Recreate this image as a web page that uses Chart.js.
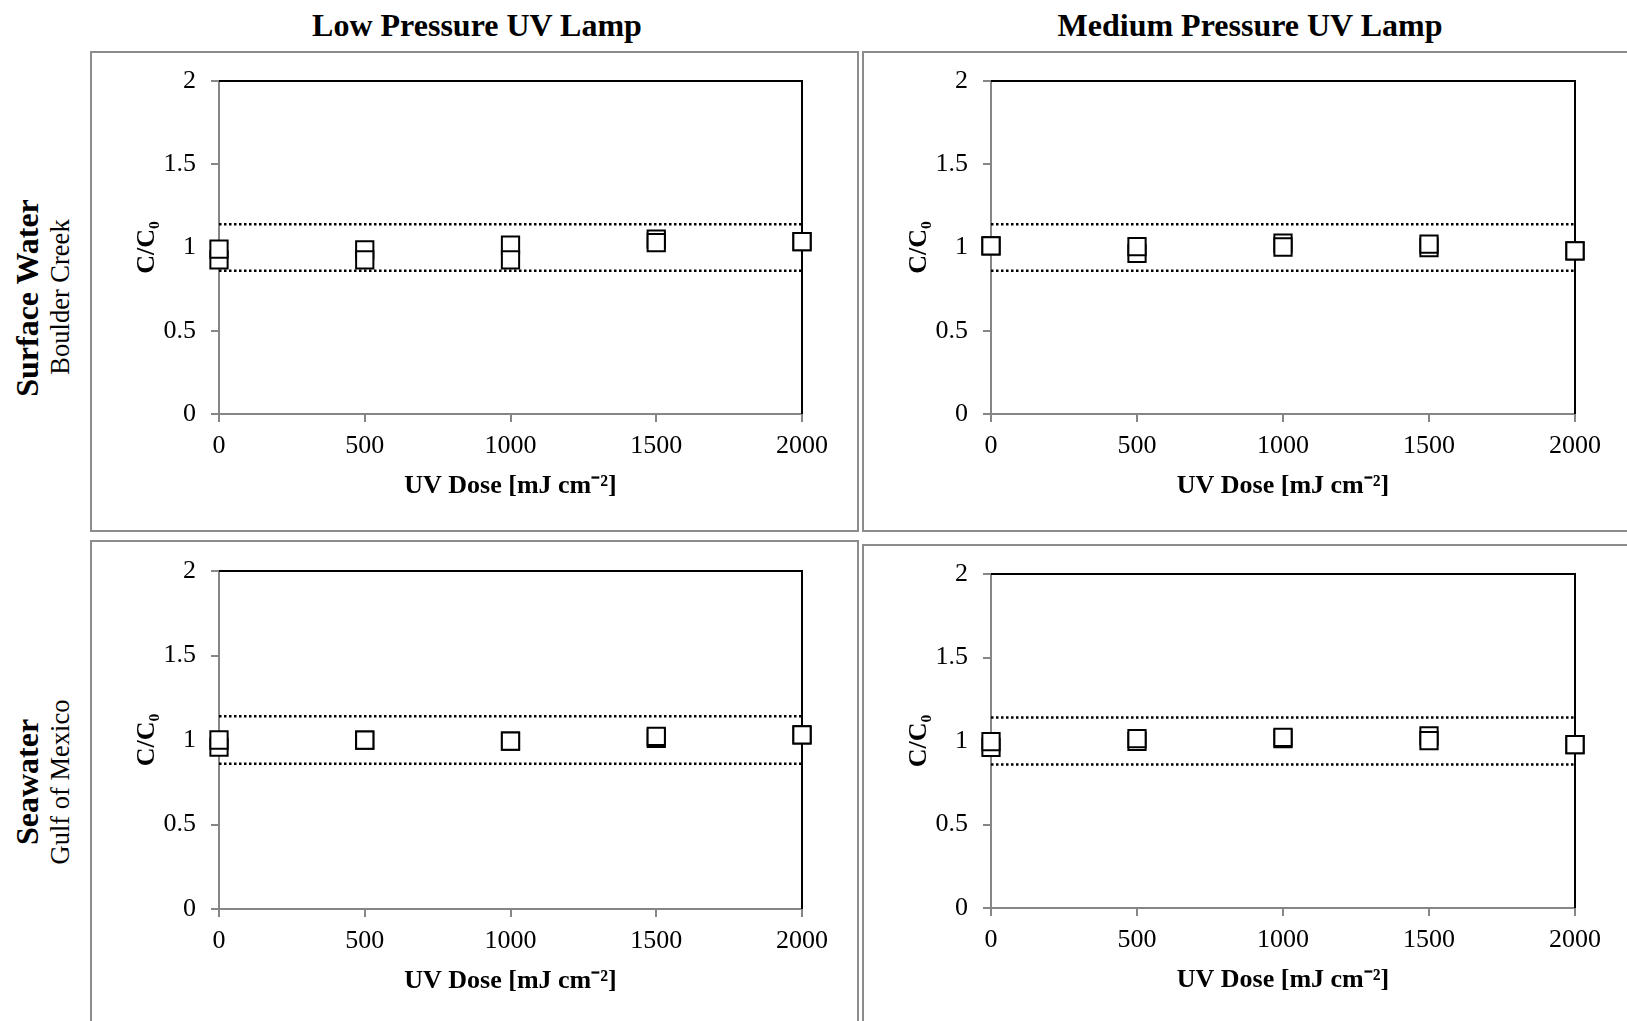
<!DOCTYPE html>
<html>
<head>
<meta charset="utf-8">
<script src="https://cdn.jsdelivr.net/npm/chart.js@4"></script>
<style>
  html, body { margin: 0; padding: 0; background: #fff; overflow: hidden; }
  body { width: 1627px; height: 1021px; position: relative; font-family: "Liberation Serif", "Times New Roman", serif; color: #000; }
  .panel { position: absolute; border: 2px solid #8c8c8c; box-sizing: border-box; }
  .lamp { position: absolute; font-weight: bold; font-size: 32px; white-space: nowrap; transform: translate(-50%, -50%); }
  .row { position: absolute; white-space: nowrap; transform: translate(-50%, -50%) rotate(-90deg); }
  .row.main { font-weight: bold; font-size: 32px; }
  .row.sub { font-size: 26.5px; }
  canvas { position: absolute; }
</style>
</head>
<body>
<div class="panel" style="left:90px; top:51px; width:769px; height:481px"></div>
<div class="panel" style="left:862px; top:51px; width:800px; height:481px"></div>
<div class="panel" style="left:90px; top:540px; width:769px; height:600px"></div>
<div class="panel" style="left:862px; top:544px; width:800px; height:600px"></div>

<div class="lamp" style="left:477px; top:25px">Low Pressure UV Lamp</div>
<div class="lamp" style="left:1250px; top:25px">Medium Pressure UV Lamp</div>

<div class="row main" style="left:27px; top:298px">Surface Water</div>
<div class="row sub" style="left:60px; top:297px">Boulder Creek</div>
<div class="row main" style="left:27px; top:782px">Seawater</div>
<div class="row sub" style="left:60px; top:782px">Gulf of Mexico</div>

<canvas id="lpSurface"></canvas>
<canvas id="mpSurface"></canvas>
<canvas id="lpSea"></canvas>
<canvas id="mpSea"></canvas>

<script>
// UV dose steps and axis labels
const doses = [0, 500, 1000, 1500, 2000];
const xTickLabels = ['0', '500', '1000', '1500', '2000'];
const yTickLabels = ['0', '0.5', '1', '1.5', '2'];
// dotted band around C/C0 = 1
const bandLimits = [0.86, 1.14];

// C/C0, two replicates per dose (rep A is drawn on top)
// Low pressure lamp, Boulder Creek
const lpSurfaceA = [0.99, 0.925, 0.925, 1.03, 1.035];
const lpSurfaceB = [0.925, 0.985, 1.015, 1.05, 1.035];
// Medium pressure lamp, Boulder Creek
const mpSurfaceA = [1.01, 1.005, 1.003, 1.02, 0.98];
const mpSurfaceB = [1.01, 0.965, 1.027, 1.0, 0.98];
// Low pressure lamp, Gulf of Mexico
const lpSeaA = [1.0, 0.999, 0.993, 1.021, 1.031];
const lpSeaB = [0.958, 0.999, 0.993, 1.009, 1.031];
// Medium pressure lamp, Gulf of Mexico
const mpSeaA = [0.996, 1.014, 1.022, 1.002, 0.978];
const mpSeaB = [0.962, 0.998, 1.014, 1.03, 0.978];

const FONT = '"Liberation Serif", "Times New Roman", serif';
const AXIS_GRAY = '#868686';

// canvas box [left, top, width, height] and plot area [left, top, right, bottom]
const panels = [
    { id: 'lpSurface', a: lpSurfaceA, b: lpSurfaceB, box: [93, 54, 763, 476], plot: [219, 81, 802, 414] },
    { id: 'mpSurface', a: mpSurfaceA, b: mpSurfaceB, box: [865, 54, 762, 476], plot: [991, 81, 1575, 414] },
    { id: 'lpSea', a: lpSeaA, b: lpSeaB, box: [93, 543, 763, 482], plot: [219, 571, 802, 909] },
    { id: 'mpSea', a: mpSeaA, b: mpSeaB, box: [865, 547, 762, 477], plot: [991, 574, 1575, 908] }
];

// black top and right edge of the plot area
const plotFrame = {
    id: 'plotFrame',
    beforeDatasetsDraw(chart) {
        const { ctx, chartArea } = chart;
        ctx.save();
        ctx.strokeStyle = '#000';
        ctx.lineWidth = 2;
        ctx.beginPath();
        ctx.moveTo(chartArea.left, chartArea.top);
        ctx.lineTo(chartArea.right, chartArea.top);
        ctx.lineTo(chartArea.right, chartArea.bottom);
        ctx.stroke();
        ctx.restore();
    }
};

const toPoints = (values) => values.map((v, i) => ({ x: doses[i], y: v }));

const markerSet = (label, values, order) => ({
    label,
    data: toPoints(values),
    order,
    showLine: false,
    pointStyle: 'rect',
    pointRadius: 12.2,
    pointBorderWidth: 2,
    pointBorderColor: '#000',
    pointBackgroundColor: '#fff',
    clip: false
});

const bandSet = (y) => ({
    label: 'limit ' + y,
    data: [{ x: doses[0], y }, { x: doses[doses.length - 1], y }],
    order: 5,
    showLine: true,
    borderColor: '#000',
    borderWidth: 2.5,
    borderDash: [2.5, 2.5],
    pointRadius: 0,
    fill: false,
    clip: false
});

panels.forEach(p => {
    const [bl, bt, bw, bh] = p.box;
    const [pl, pt, pr, pb] = p.plot;
    const canvas = document.getElementById(p.id);
    canvas.width = bw;
    canvas.height = bh;
    canvas.style.left = bl + 'px';
    canvas.style.top = bt + 'px';

    const yWidth = pl - bl;
    const xHeight = bt + bh - pb;

    new Chart(canvas.getContext('2d'), {
        type: 'scatter',
        data: {
            datasets: [
                markerSet('rep A', p.a, 0),
                markerSet('rep B', p.b, 1),
                ...bandLimits.map(bandSet)
            ]
        },
        options: {
            responsive: false,
            animation: false,
            events: [],
            layout: {
                autoPadding: false,
                padding: { left: 0, top: pt - bt, right: bl + bw - pr, bottom: 0 }
            },
            plugins: {
                legend: { display: false },
                tooltip: { enabled: false }
            },
            scales: {
                x: {
                    type: 'linear',
                    min: 0,
                    max: 2000,
                    ticks: {
                        stepSize: 500,
                        autoSkip: false,
                        maxRotation: 0,
                        padding: 9,
                        color: '#000',
                        font: { family: FONT, size: 26 },
                        callback: (value, index) => xTickLabels[index]
                    },
                    grid: { drawOnChartArea: false, drawTicks: true, tickLength: 8, color: AXIS_GRAY, lineWidth: 2 },
                    border: { display: true, color: AXIS_GRAY, width: 2 },
                    title: {
                        display: true,
                        text: 'UV Dose [mJ cm\u207B\u00B2]',
                        color: '#000',
                        font: { family: FONT, size: 26, weight: 'bold' },
                        padding: { top: 0, bottom: xHeight - 72 - 15.6 }
                    },
                    afterFit: (scale) => {
                        scale.height = xHeight;
                        scale.paddingLeft = 0;
                        scale.paddingRight = 0;
                    }
                },
                y: {
                    type: 'linear',
                    min: 0,
                    max: 2,
                    ticks: {
                        stepSize: 0.5,
                        padding: 15,
                        color: '#000',
                        font: { family: FONT, size: 26 },
                        callback: (value, index) => yTickLabels[index]
                    },
                    grid: { drawOnChartArea: false, drawTicks: true, tickLength: 8, color: AXIS_GRAY, lineWidth: 2 },
                    border: { display: true, color: AXIS_GRAY, width: 2 },
                    title: {
                        display: true,
                        text: 'C/C\u2080',
                        color: '#000',
                        font: { family: FONT, size: 26, weight: 'bold' },
                        padding: { top: 39, bottom: 0 }
                    },
                    afterFit: (scale) => {
                        scale.width = yWidth;
                        scale.paddingTop = 0;
                        scale.paddingBottom = 0;
                    }
                }
            }
        },
        plugins: [plotFrame]
    });
});
</script>
</body>
</html>
